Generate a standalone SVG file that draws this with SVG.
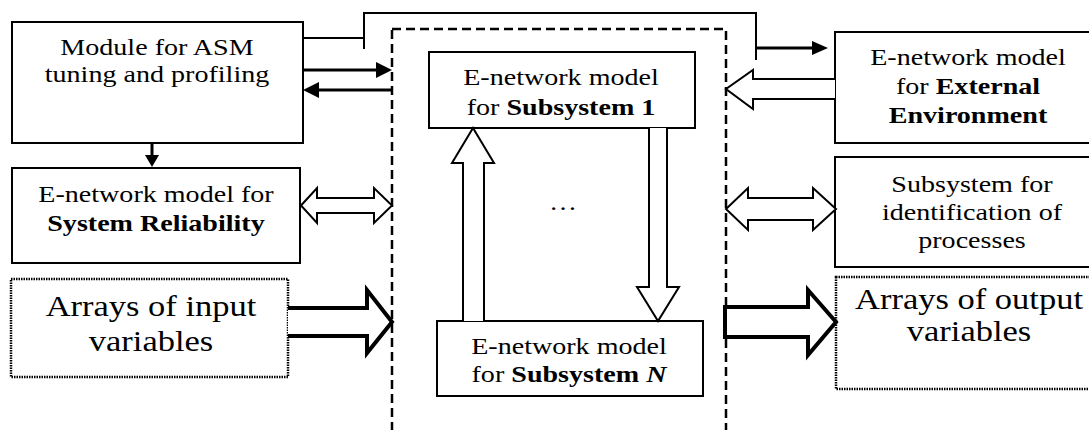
<svg xmlns="http://www.w3.org/2000/svg" width="1089" height="430" viewBox="0 0 1089 430">
<style>
.box{fill:#fff;stroke:#000;stroke-width:2}
.dot{fill:#fff;stroke:#000;stroke-width:2.5;stroke-dasharray:1.5 1}
.dash{fill:none;stroke:#000;stroke-width:2.5;stroke-dasharray:9 5}
.t{font-family:"Liberation Serif","Times New Roman",serif;font-size:24px;fill:#000;text-anchor:middle}
.big{font-size:30px}
.b{font-weight:bold}
.bi{font-weight:bold;font-style:italic}
.ln{fill:none;stroke:#000;stroke-width:2}
.th{fill:none;stroke:#000;stroke-width:3}
.hol{fill:#fff;stroke:#000;stroke-width:2;stroke-linejoin:miter}
.hol4{fill:#fff;stroke:#000;stroke-width:4;stroke-linejoin:miter}
.head{fill:#000;stroke:none}
</style>
<rect width="1089" height="430" fill="#fff"/>
<g id="frame">
<rect class="dash" x="392" y="29" width="334" height="420"/>
</g>
<g id="module">
<rect class="box" x="12" y="22" width="291" height="121"/>
<text class="t" transform="translate(157 0) scale(1.17 1)" x="0" y="55">Module for ASM</text>
<text class="t" transform="translate(157 0) scale(1.17 1)" x="0" y="82">tuning and profiling</text>
</g>
<g id="reliability">
<rect class="box" x="12" y="168" width="288" height="95"/>
<text class="t" transform="translate(156 0) scale(1.17 1)" x="0" y="202">E-network model for</text>
<text class="t b" transform="translate(156 0) scale(1.17 1)" x="0" y="231">System Reliability</text>
</g>
<g id="inputs">
<rect class="dot" x="11" y="279" width="277" height="98"/>
<text class="t big" transform="translate(151 0) scale(1.15 1)" x="0" y="316">Arrays of input</text>
<text class="t big" transform="translate(151 0) scale(1.15 1)" x="0" y="351">variables</text>
</g>
<g id="sub1">
<rect class="box" x="429" y="52" width="266" height="76"/>
<text class="t" transform="translate(561 0) scale(1.17 1)" x="0" y="85">E-network model</text>
<text class="t" transform="translate(561 0) scale(1.17 1)" x="0" y="115">for <tspan class="b">Subsystem 1</tspan></text>
</g>
<g id="dots">
<text class="t" transform="translate(563 0) scale(1.17 1)" x="0" y="210">…</text>
</g>
<g id="subN">
<rect class="box" x="437" y="321" width="266" height="75"/>
<text class="t" transform="translate(569 0) scale(1.17 1)" x="0" y="354">E-network model</text>
<text class="t" transform="translate(569 0) scale(1.17 1)" x="0" y="382">for <tspan class="b">Subsystem </tspan><tspan class="bi">N</tspan></text>
</g>
<g id="external">
<rect class="box" x="835" y="32" width="260" height="111"/>
<text class="t" transform="translate(968 0) scale(1.17 1)" x="0" y="65">E-network model</text>
<text class="t" transform="translate(968 0) scale(1.17 1)" x="0" y="94">for <tspan class="b">External</tspan></text>
<text class="t b" transform="translate(968 0) scale(1.17 1)" x="0" y="123">Environment</text>
</g>
<g id="identification">
<rect class="box" x="835" y="157" width="260" height="110"/>
<text class="t" transform="translate(972 0) scale(1.17 1)" x="0" y="192">Subsystem for</text>
<text class="t" transform="translate(972 0) scale(1.17 1)" x="0" y="220">identification of</text>
<text class="t" transform="translate(972 0) scale(1.17 1)" x="0" y="248">processes</text>
</g>
<g id="outputs">
<rect class="dot" x="836" y="277" width="260" height="112"/>
<text class="t big" transform="translate(969 0) scale(1.15 1)" x="0" y="309">Arrays of output</text>
<text class="t big" transform="translate(969 0) scale(1.15 1)" x="0" y="341">variables</text>
</g>
<g id="connectors">
<!-- top feedback line -->
<polyline class="ln" points="303,38 364,38"/>
<polyline class="ln" points="364,49 364,13 756,13 756,60"/>
<line class="th" x1="756" y1="48" x2="813" y2="48"/>
<polygon class="head" points="812,41 828,48 812,55"/>
<!-- module <-> frame -->
<line class="th" x1="303" y1="70" x2="377" y2="70"/>
<polygon class="head" points="376,62 392,70 376,78"/>
<line class="th" x1="392" y1="90" x2="318" y2="90"/>
<polygon class="head" points="319,82 303,90 319,98"/>
<!-- module -> reliability -->
<line class="th" x1="152" y1="143" x2="152" y2="156"/>
<polygon class="head" points="145,155 152,167 159,155"/>
<!-- reliability <-> frame -->
<polygon class="hol" points="301,205.5 317,188 317,198 374,198 374,188 392,205.5 374,223 374,213 317,213 317,223"/>
<!-- inputs -> frame -->
<polyline class="hol4" points="288,308 367,308 367,290 392,322 367,353 367,336 288,336"/>
<!-- sub N -> sub 1 -->
<polyline class="hol" points="463,321 463,163 452,163 473,128 494,163 484,163 484,321"/>
<!-- sub 1 -> sub N -->
<polyline class="hol" points="649,128 649,287 637,287 658,321 679,287 667,287 667,128"/>
<!-- external -> frame -->
<polyline class="hol" points="835,79 753,79 753,70 726,89 753,109 753,99 835,99"/>
<!-- frame <-> identification -->
<polygon class="hol" points="726,209 748,188 748,198 813,198 813,188 836,209 813,230 813,220 748,220 748,230"/>
<!-- frame -> outputs -->
<polygon class="hol4" points="725,307 808,307 808,290 836,322 808,355 808,337 725,337"/>
</g>
</svg>
